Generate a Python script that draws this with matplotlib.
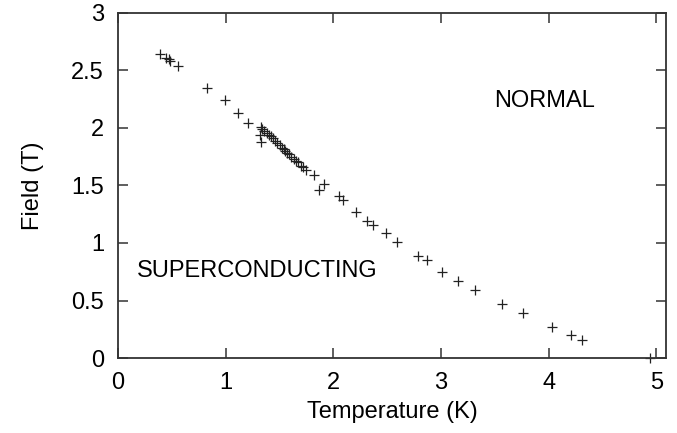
import matplotlib.pyplot as plt

plt.rcParams['font.family'] = ['Liberation Sans', 'DejaVu Sans']

# critical field vs temperature
temperature = [0.39, 0.45, 0.47, 0.48, 0.56, 0.83, 0.99, 1.11, 1.21,
               1.33, 1.32, 1.33,
               1.34, 1.36, 1.38, 1.40, 1.42, 1.44, 1.46, 1.48, 1.50, 1.52,
               1.54, 1.55, 1.57, 1.59, 1.61, 1.63, 1.65, 1.67, 1.70, 1.72,
               1.75, 1.82, 1.91, 1.87, 2.05, 2.09, 2.21, 2.31, 2.37, 2.49,
               2.59, 2.79, 2.87, 3.01, 3.16, 3.32, 3.57, 3.76, 4.03, 4.21,
               4.31, 4.94]
field = [2.64, 2.61, 2.60, 2.58, 2.54, 2.345, 2.24, 2.13, 2.04,
         2.01, 1.94, 1.88,
         1.99, 1.97, 1.96, 1.94, 1.93, 1.91, 1.89, 1.87, 1.85, 1.83,
         1.82, 1.80, 1.78, 1.77, 1.75, 1.73, 1.71, 1.70, 1.67, 1.66,
         1.635, 1.59, 1.51, 1.46, 1.41, 1.37, 1.27, 1.19, 1.16, 1.09,
         1.01, 0.887, 0.85, 0.75, 0.667, 0.59, 0.47, 0.39, 0.27, 0.20,
         0.156, 0.0]

x_ticks = [0, 1, 2, 3, 4, 5]
y_ticks = [0, 0.5, 1, 1.5, 2, 2.5, 3]
y_tick_labels = ['0', '0.5', '1', '1.5', '2', '2.5', '3']

fig = plt.figure(figsize=(6.77, 4.33), dpi=100)
ax = fig.add_axes([0.1743, 0.1732, 0.8095, 0.7968])

ax.plot(temperature, field, linestyle='none', marker='+', markersize=7.5,
        markeredgewidth=0.9, color='#222222', clip_on=False)

ax.set_xlim(0, 5.09)
ax.set_ylim(0, 3)
ax.set_xticks(x_ticks)
ax.set_yticks(y_ticks)
ax.set_yticklabels(y_tick_labels)
ax.tick_params(direction='in', length=7, width=1.1, top=True, right=True,
               labelsize=17, pad=10, color='#333333')

for sp in ax.spines.values():
    sp.set_linewidth(1.3)
    sp.set_color('#333333')

ax.set_xlabel('Temperature (K)', fontsize=17, labelpad=5)
ax.set_ylabel('Field (T)', fontsize=17, labelpad=20)

ax.text(3.96, 2.235, 'NORMAL', fontsize=17, ha='center', va='center')
ax.text(0.176, 0.757, 'SUPERCONDUCTING', fontsize=17, ha='left', va='center')

fig.savefig('out.png', dpi=100)
